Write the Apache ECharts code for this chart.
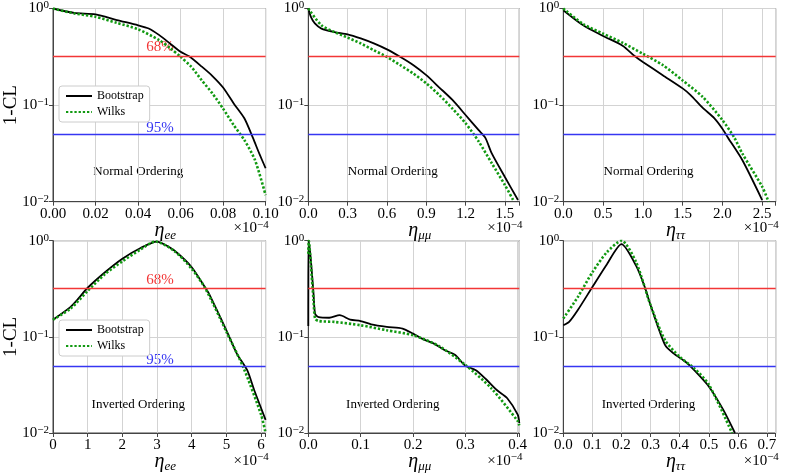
<!DOCTYPE html>
<html>
<head>
<meta charset="utf-8">
<script src="https://cdn.jsdelivr.net/npm/echarts@6/dist/echarts.min.js"></script>
<style>
  html, body { margin: 0; padding: 0; background: #fff; }
  #main { width: 789px; height: 474px; }
</style>
</head>
<body>
<div id="main"></div>
<script>
// confidence levels drawn as horizontal lines
var levels = [0.3173, 0.0455];
var levelLabels = ['68%', '95%'];

// Normal ordering, eta_ee (x 1e-4)
var noEeBootX = [0, 0.01, 0.02, 0.03, 0.04, 0.045, 0.05, 0.055, 0.06, 0.064, 0.07, 0.075, 0.08, 0.085, 0.09, 0.094, 0.097, 0.1];
var noEeBootY = [1.0, 0.90, 0.87, 0.76, 0.67, 0.62, 0.53, 0.435, 0.356, 0.32, 0.25, 0.20, 0.152, 0.104, 0.073, 0.046, 0.0316, 0.0222];
var noEeWilksX = [0, 0.01, 0.02, 0.03, 0.04, 0.05, 0.055, 0.06, 0.065, 0.07, 0.075, 0.08, 0.085, 0.09, 0.095, 0.1];
var noEeWilksY = [1.0, 0.89, 0.82, 0.71, 0.61, 0.47, 0.39, 0.316, 0.25, 0.18, 0.132, 0.092, 0.062, 0.0435, 0.027, 0.0117];

// Normal ordering, eta_mumu
var noMmBootX = [0, 0.02, 0.05, 0.1, 0.2, 0.3, 0.4, 0.5, 0.6, 0.7, 0.8, 0.9, 1.0, 1.1, 1.2, 1.3, 1.35, 1.4, 1.5, 1.6];
var noMmBootY = [1.0, 0.82, 0.70, 0.62, 0.57, 0.54, 0.49, 0.435, 0.377, 0.316, 0.26, 0.204, 0.152, 0.113, 0.079, 0.055, 0.046, 0.0316, 0.018, 0.0104];
var noMmWilksX = [0, 0.1, 0.2, 0.3, 0.4, 0.5, 0.6, 0.7, 0.8, 0.9, 1.0, 1.1, 1.2, 1.3, 1.4, 1.5, 1.57];
var noMmWilksY = [1.0, 0.67, 0.57, 0.50, 0.435, 0.37, 0.316, 0.26, 0.213, 0.168, 0.127, 0.092, 0.065, 0.042, 0.025, 0.0149, 0.01];

// Normal ordering, eta_tautau
var noTtBootX = [0, 0.25, 0.5, 0.75, 0.9, 1.0, 1.25, 1.5, 1.6, 1.75, 1.9, 2.0, 2.07, 2.25, 2.5];
var noTtBootY = [0.96, 0.67, 0.52, 0.41, 0.32, 0.28, 0.204, 0.149, 0.127, 0.094, 0.073, 0.057, 0.046, 0.027, 0.0104];
var noTtWilksX = [0, 0.25, 0.5, 0.75, 1.0, 1.25, 1.5, 1.75, 2.0, 2.15, 2.25, 2.5, 2.58];
var noTtWilksY = [1.0, 0.69, 0.55, 0.44, 0.34, 0.26, 0.18, 0.122, 0.07, 0.046, 0.0316, 0.0143, 0.01];

// Inverted ordering, eta_ee
var ioEeBootX = [0, 0.5, 0.7, 1.0, 1.5, 2.0, 2.5, 3.0, 3.2, 3.5, 4.0, 4.4, 4.5, 5.0, 5.3, 5.6, 5.8, 6.13];
var ioEeBootY = [0.151, 0.204, 0.243, 0.324, 0.47, 0.65, 0.83, 0.98, 0.92, 0.79, 0.53, 0.32, 0.28, 0.117, 0.067, 0.045, 0.028, 0.0137];
var ioEeWilksX = [0, 0.5, 1.0, 1.5, 2.0, 2.5, 2.95, 3.5, 4.0, 4.4, 5.0, 5.5, 6.0, 6.13];
var ioEeWilksY = [0.151, 0.196, 0.30, 0.45, 0.61, 0.80, 0.98, 0.78, 0.51, 0.315, 0.113, 0.047, 0.0155, 0.01];

// Inverted ordering, eta_mumu
var ioMmBootX = [0, 0.001, 0.005, 0.01, 0.013, 0.02, 0.04, 0.06, 0.08, 0.1, 0.12, 0.15, 0.18, 0.2, 0.22, 0.24, 0.26, 0.28, 0.3, 0.32, 0.34, 0.36, 0.38, 0.4, 0.403];
var ioMmBootY = [0.13, 1.0, 0.62, 0.28, 0.174, 0.16, 0.158, 0.168, 0.151, 0.146, 0.135, 0.127, 0.122, 0.108, 0.094, 0.085, 0.073, 0.065, 0.05, 0.045, 0.036, 0.028, 0.023, 0.0155, 0.0127];
var ioMmWilksX = [0, 0.001, 0.005, 0.01, 0.013, 0.02, 0.05, 0.1, 0.15, 0.2, 0.25, 0.3, 0.35, 0.4, 0.403];
var ioMmWilksY = [0.73, 1.0, 0.55, 0.24, 0.155, 0.146, 0.143, 0.132, 0.117, 0.104, 0.08, 0.051, 0.029, 0.0133, 0.012];

// Inverted ordering, eta_tautau
var ioTtBootX = [0, 0.02, 0.05, 0.1, 0.15, 0.2, 0.25, 0.28, 0.3, 0.35, 0.38, 0.42, 0.45, 0.5, 0.55, 0.59];
var ioTtBootY = [0.132, 0.143, 0.19, 0.33, 0.57, 0.92, 0.55, 0.33, 0.213, 0.082, 0.067, 0.055, 0.045, 0.0305, 0.0174, 0.01];
var ioTtWilksX = [0, 0.05, 0.1, 0.15, 0.2, 0.25, 0.3, 0.35, 0.4, 0.45, 0.5, 0.58];
var ioTtWilksY = [0.155, 0.26, 0.47, 0.76, 1.0, 0.60, 0.213, 0.092, 0.062, 0.047, 0.032, 0.01];

var xNames = ['ee', 'μμ', 'ττ', 'ee', 'μμ', 'ττ'];
var orderingNames = ['Normal Ordering', 'Normal Ordering', 'Normal Ordering',
                     'Inverted Ordering', 'Inverted Ordering', 'Inverted Ordering'];

var panels = [
  { boot: [noEeBootX, noEeBootY], wilks: [noEeWilksX, noEeWilksY], max: 0.1,   interval: 0.02, dec: 2 },
  { boot: [noMmBootX, noMmBootY], wilks: [noMmWilksX, noMmWilksY], max: 1.61,  interval: 0.3,  dec: 1 },
  { boot: [noTtBootX, noTtBootY], wilks: [noTtWilksX, noTtWilksY], max: 2.67,  interval: 0.5,  dec: 1 },
  { boot: [ioEeBootX, ioEeBootY], wilks: [ioEeWilksX, ioEeWilksY], max: 6.13,  interval: 1,    dec: 0 },
  { boot: [ioMmBootX, ioMmBootY], wilks: [ioMmWilksX, ioMmWilksY], max: 0.403, interval: 0.1,  dec: 1 },
  { boot: [ioTtBootX, ioTtBootY], wilks: [ioTtWilksX, ioTtWilksY], max: 0.73,  interval: 0.1,  dec: 1 }
];

var FONT = 'Liberation Serif';
var RED = '#f23636', BLUE = '#3636f2';
var lefts = [53, 308.3, 563.3];
var widths = [212.6, 211, 212.4];
var tops = [8.3, 240.7];
var plotH = 193.4;

function zip(xs, ys) {
  return xs.map(function (x, i) { return [x, ys[i]]; });
}

var grids = [], xAxes = [], yAxes = [], series = [], graphics = [];

panels.forEach(function (p, i) {
  var col = i % 3, row = Math.floor(i / 3);
  var left = lefts[col], top = tops[row];
  grids.push({
    left: left, top: top, width: widths[col], height: plotH,
    show: true, borderColor: '#444', borderWidth: 1, backgroundColor: '#fff'
  });
  xAxes.push({
    gridIndex: i, type: 'value', min: 0, max: p.max, interval: p.interval,
    name: '{a|η}{b|' + xNames[i] + '}',
    nameLocation: 'middle', nameGap: 18, nameMoveOverlap: false,
    nameTextStyle: {
      padding: [0, 0, 0, 12],
      rich: {
        a: { fontFamily: FONT, fontSize: 20, fontStyle: 'italic', color: '#000', lineHeight: 22 },
        b: { fontFamily: FONT, fontSize: 13, fontStyle: 'italic', color: '#000', lineHeight: 22, padding: [9, 0, 0, 0] }
      }
    },
    axisLine: { show: true, onZero: false, lineStyle: { color: '#444' } },
    axisTick: { show: true, length: 4, lineStyle: { color: '#444' } },
    axisLabel: {
      fontFamily: FONT, fontSize: 15, color: '#000', margin: 5,
      showMinLabel: true, showMaxLabel: true, hideOverlap: false,
      formatter: function (v) {
        var k = v / p.interval;
        if (Math.abs(k - Math.round(k)) > 1e-6) return '';
        return p.dec === 0 ? String(Math.round(v)) : v.toFixed(p.dec);
      }
    },
    splitLine: { show: true, lineStyle: { color: '#d3d3d3', width: 1 } }
  });
  yAxes.push({
    gridIndex: i, type: 'log', logBase: 10, min: 0.01, max: 1,
    name: col === 0 ? '1-CL' : '',
    nameLocation: 'middle', nameGap: 32, nameMoveOverlap: false,
    nameTextStyle: { fontFamily: FONT, fontSize: 19, color: '#000' },
    axisLine: { show: true, lineStyle: { color: '#444' } },
    axisTick: { show: true, length: 4, lineStyle: { color: '#444' } },
    axisLabel: {
      fontFamily: FONT, fontSize: 15, color: '#000', margin: 4,
      formatter: function (v) {
        var e = Math.round(Math.log10(v));
        return '10{s|' + (e < 0 ? '−' + (-e) : e) + '}';
      },
      rich: { s: { fontFamily: FONT, fontSize: 11, color: '#000', padding: [0, 0, 6, 0] } }
    },
    splitLine: { show: true, lineStyle: { color: '#d3d3d3', width: 1 } }
  });
  series.push({
    name: 'Bootstrap', type: 'line', xAxisIndex: i, yAxisIndex: i,
    data: zip(p.boot[0], p.boot[1]), symbol: 'none', smooth: 0.25, z: 3,
    lineStyle: { color: '#000', width: 1.8 },
    itemStyle: { color: '#000' },
    markLine: {
      silent: true, symbol: 'none', label: { show: false }, animation: false,
      data: [
        { yAxis: levels[0], lineStyle: { color: RED, width: 1.4, type: 'solid' } },
        { yAxis: levels[1], lineStyle: { color: BLUE, width: 1.4, type: 'solid' } }
      ]
    }
  });
  series.push({
    name: 'Wilks', type: 'line', xAxisIndex: i, yAxisIndex: i,
    data: zip(p.wilks[0], p.wilks[1]), symbol: 'none', smooth: 0.25, z: 4,
    lineStyle: { color: '#119911', width: 2.6, type: [2.3, 1.9] },
    itemStyle: { color: '#119911' }
  });

  var right = left + widths[col];
  graphics.push({
    type: 'text', x: left + widths[col] / 2 - 21, y: top + 157,
    style: { text: orderingNames[i], font: '13px "' + FONT + '"', fill: '#000', align: 'center' }
  });
  graphics.push({
    type: 'text', x: right - 32, y: top + plotH + 18,
    style: {
      text: '×10{s|−4}', fontFamily: FONT, fontSize: 15, fill: '#000',
      rich: { s: { fontFamily: FONT, fontSize: 11, fill: '#000', padding: [0, 0, 6, 0] } }
    }
  });
  if (col === 0) {
    graphics.push({
      type: 'text', x: 160, y: top + 31.5,
      style: { text: levelLabels[0], font: '15px "' + FONT + '"', fill: RED, align: 'center' }
    });
    graphics.push({
      type: 'text', x: 160, y: top + 112,
      style: { text: levelLabels[1], font: '15px "' + FONT + '"', fill: BLUE, align: 'center' }
    });
  }
});

var legendBase = {
  orient: 'vertical', left: 59, itemWidth: 26, itemHeight: 10, itemGap: 4,
  padding: [4, 6], backgroundColor: '#fff', borderColor: '#ccc', borderWidth: 1, borderRadius: 3,
  textStyle: { fontFamily: FONT, fontSize: 12, color: '#000' },
  itemStyle: { opacity: 0, borderWidth: 0 },
  data: ['Bootstrap', 'Wilks'], selectedMode: false
};

var option = {
  animation: false,
  backgroundColor: '#fff',
  grid: grids,
  xAxis: xAxes,
  yAxis: yAxes,
  series: series,
  legend: [
    Object.assign({}, legendBase, { top: 86 }),
    Object.assign({}, legendBase, { top: 320 })
  ],
  graphic: graphics
};

var chart = echarts.init(document.getElementById('main'), null, { renderer: 'canvas' });
chart.setOption(option);
</script>
</body>
</html>
